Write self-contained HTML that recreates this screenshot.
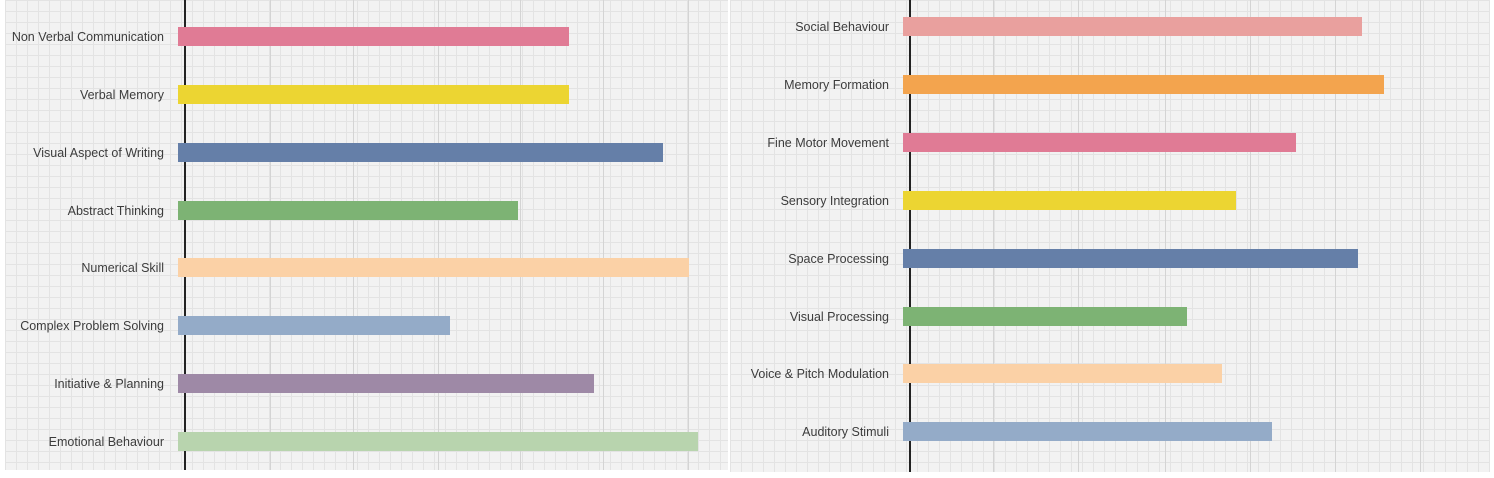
<!DOCTYPE html><html><head><style>
body{margin:0;width:1494px;height:478px;background:#fff;position:relative;overflow:hidden;font-family:"Liberation Sans",sans-serif}
.p{position:absolute;background-color:#f2f2f2;background-image:linear-gradient(#e3e3e3 1px,transparent 1px),linear-gradient(90deg,#e3e3e3 1px,transparent 1px);background-size:11px 11px}
.g{position:absolute;top:0;width:1px;background:#d4d4d4}
.ax{position:absolute;top:0;width:2px;background:#222}
.b{position:absolute;height:19px}
.l{position:absolute;font-size:12.5px;color:#3c3c3c;text-align:right;width:200px;line-height:16px}
</style></head><body>
<div class="p" style="left:5px;top:0;width:723px;height:470px"></div>
<div class="p" style="left:730px;top:0;width:760px;height:472px"></div>
<div class="g" style="left:270px;height:470px"></div><div class="g" style="left:353px;height:470px"></div><div class="g" style="left:438px;height:470px"></div><div class="g" style="left:520px;height:470px"></div><div class="g" style="left:603px;height:470px"></div><div class="g" style="left:688px;height:470px"></div>
<div class="g" style="left:993px;height:472px"></div><div class="g" style="left:1078px;height:472px"></div><div class="g" style="left:1165px;height:472px"></div><div class="g" style="left:1250px;height:472px"></div><div class="g" style="left:1335px;height:472px"></div><div class="g" style="left:1420px;height:472px"></div>
<div class="ax" style="left:184px;height:470px"></div>
<div class="ax" style="left:909px;height:472px"></div>

<div class="b" style="left:178px;top:27px;width:391px;background:#e07b95"></div><div class="l" style="left:-36px;top:29px">Non Verbal Communication</div>
<div class="b" style="left:178px;top:85px;width:391px;background:#ecd532"></div><div class="l" style="left:-36px;top:87px">Verbal Memory</div>
<div class="b" style="left:178px;top:143px;width:485px;background:#657fa8"></div><div class="l" style="left:-36px;top:145px">Visual Aspect of Writing</div>
<div class="b" style="left:178px;top:201px;width:340px;background:#7db374"></div><div class="l" style="left:-36px;top:203px">Abstract Thinking</div>
<div class="b" style="left:178px;top:258px;width:511px;background:#fbd1a6"></div><div class="l" style="left:-36px;top:260px">Numerical Skill</div>
<div class="b" style="left:178px;top:316px;width:272px;background:#94abc8"></div><div class="l" style="left:-36px;top:318px">Complex Problem Solving</div>
<div class="b" style="left:178px;top:374px;width:416px;background:#9e89a6"></div><div class="l" style="left:-36px;top:376px">Initiative &amp; Planning</div>
<div class="b" style="left:178px;top:432px;width:520px;background:#b8d4ae"></div><div class="l" style="left:-36px;top:434px">Emotional Behaviour</div>

<div class="b" style="left:903px;top:17px;width:459px;background:#e9a09e"></div><div class="l" style="left:689px;top:19px">Social Behaviour</div>
<div class="b" style="left:903px;top:75px;width:481px;background:#f3a44e"></div><div class="l" style="left:689px;top:77px">Memory Formation</div>
<div class="b" style="left:903px;top:133px;width:393px;background:#e07b95"></div><div class="l" style="left:689px;top:135px">Fine Motor Movement</div>
<div class="b" style="left:903px;top:191px;width:333px;background:#ecd532"></div><div class="l" style="left:689px;top:193px">Sensory Integration</div>
<div class="b" style="left:903px;top:249px;width:455px;background:#657fa8"></div><div class="l" style="left:689px;top:251px">Space Processing</div>
<div class="b" style="left:903px;top:307px;width:284px;background:#7db374"></div><div class="l" style="left:689px;top:309px">Visual Processing</div>
<div class="b" style="left:903px;top:364px;width:319px;background:#fbd1a6"></div><div class="l" style="left:689px;top:366px">Voice &amp; Pitch Modulation</div>
<div class="b" style="left:903px;top:422px;width:369px;background:#94abc8"></div><div class="l" style="left:689px;top:424px">Auditory Stimuli</div>
</body></html>
